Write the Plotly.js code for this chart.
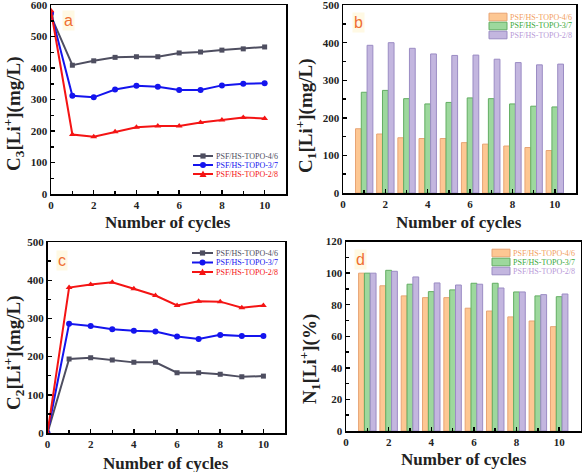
<!DOCTYPE html>
<html>
<head>
<meta charset="utf-8">
<script src="https://cdn.plot.ly/plotly-3.0.1.min.js"></script>
<style>html,body{margin:0;padding:0;background:#fff;}#chart{width:584px;height:472px;}</style>
</head>
<body>
<div id="chart"></div>
<script>
// ---------- data ----------
const seriesNames = ['PSF/HS-TOPO-4/6', 'PSF/HS-TOPO-3/7', 'PSF/HS-TOPO-2/8'];
const cyclesLine = [0, 1, 2, 3, 4, 5, 6, 7, 8, 9, 10];
const cyclesBar = [1, 2, 3, 4, 5, 6, 7, 8, 9, 10];
const xTicks = [0, 2, 4, 6, 8, 10];
const yTicksA = [0, 100, 200, 300, 400, 500, 600];
const yTicksBC = [0, 100, 200, 300, 400, 500];
const yTicksD = [0, 20, 40, 60, 80, 100, 120];

// (a) C3[Li+] (mg/L)
const c3_46 = [565, 409, 423, 434, 436, 436, 448, 451, 457, 461, 467];
const c3_37 = [575, 312, 307, 332, 344, 341, 330, 330, 345, 350, 352];
const c3_28 = [582, 189, 182, 198, 212, 216, 216, 227, 235, 243, 240];

// (b) C1[Li+] (mg/L)
const c1_46 = [171, 157, 147, 145, 145, 134, 130, 125, 121, 113];
const c1_37 = [268, 273, 251, 237, 241, 253, 251, 237, 231, 229];
const c1_28 = [393, 400, 385, 370, 366, 367, 356, 347, 341, 343];

// (c) C2[Li+] (mg/L)
const c2_46 = [0, 194, 197, 191, 185, 185, 158, 158, 154, 147, 149];
const c2_37 = [0, 286, 280, 272, 268, 266, 253, 246, 257, 254, 254];
const c2_28 = [0, 381, 389, 395, 378, 360, 334, 345, 344, 328, 334];

// (d) N1[Li+] (%)
const n1_46 = [100, 92, 85.6, 84.5, 84.5, 77.8, 76, 72.3, 69.7, 66.1];
const n1_37 = [100, 101.8, 93, 88.3, 89.4, 93.6, 93.6, 88.1, 85.6, 85.1];
const n1_28 = [100, 101.2, 97.6, 93.8, 92.5, 93, 90.6, 88.1, 86.4, 86.8];

// ---------- styling ----------
const W = 584, H = 472;
const px = x => x / W;
const py = y => 1 - y / H;
const SERIF = 'Liberation Serif, Times New Roman, serif';
const lineColors = ['#4e4e60', '#1414ee', '#f41414'];
const lineSymbols = ['square', 'circle', 'triangle-up'];
const barFill = ['#fdc793', '#9dd89d', '#c3b6df'];
const barEdge = ['#e8a474', '#62ad62', '#9b8cc4'];
const legTextColors = ['#f2a060', '#3aa83a', '#b99ad8'];
const letterColor = '#ef6f32';

function lineTrace(y, i, xa, ya) {
  return {
    x: cyclesLine, y: y, xaxis: xa, yaxis: ya, type: 'scatter', mode: 'lines+markers',
    name: seriesNames[i], showlegend: false,
    line: {color: lineColors[i], width: 2},
    marker: {symbol: lineSymbols[i], size: i === 0 ? 5 : 6, color: lineColors[i]}
  };
}
function barTrace(y, i, xa, ya) {
  return {
    x: cyclesBar, y: y, xaxis: xa, yaxis: ya, type: 'bar',
    name: seriesNames[i], showlegend: false, offsetgroup: String(i),
    marker: {color: barFill[i], line: {color: barEdge[i], width: 1}}
  };
}

const traces = [
  lineTrace(c3_46, 0, 'x', 'y'), lineTrace(c3_37, 1, 'x', 'y'), lineTrace(c3_28, 2, 'x', 'y'),
  barTrace(c1_46, 0, 'x2', 'y2'), barTrace(c1_37, 1, 'x2', 'y2'), barTrace(c1_28, 2, 'x2', 'y2'),
  lineTrace(c2_46, 0, 'x3', 'y3'), lineTrace(c2_37, 1, 'x3', 'y3'), lineTrace(c2_28, 2, 'x3', 'y3'),
  barTrace(n1_46, 0, 'x4', 'y4'), barTrace(n1_37, 1, 'x4', 'y4'), barTrace(n1_28, 2, 'x4', 'y4')
];

const tickFont = {family: SERIF, size: 11, color: '#222', weight: 'bold'};
function xAxis(dom, anchor) {
  return {
    domain: dom, anchor: anchor, range: [0, 11], tickmode: 'array', tickvals: xTicks,
    ticks: 'inside', ticklen: 4, tickwidth: 1.5, tickcolor: '#000',
    minor: {dtick: 1, tick0: 0, ticks: 'inside', ticklen: 3, tickwidth: 1.5, tickcolor: '#000'},
    showline: true, linecolor: '#000', linewidth: 1.5, mirror: true, ticklabeloverflow: 'allow',
    showgrid: false, zeroline: false, tickfont: tickFont, fixedrange: true
  };
}
function yAxis(dom, anchor, ticks) {
  const max = ticks[ticks.length - 1];
  const step = ticks[1] - ticks[0];
  return {
    domain: dom, anchor: anchor, range: [0, max * 1.0005], tickmode: 'array', tickvals: ticks,
    ticks: 'inside', ticklen: 4, tickwidth: 1.5, tickcolor: '#000',
    minor: {dtick: step / 2, tick0: 0, ticks: 'inside', ticklen: 3, tickwidth: 1.5, tickcolor: '#000'},
    showline: true, linecolor: '#000', linewidth: 1.5, mirror: true, ticklabeloverflow: 'allow',
    showgrid: false, zeroline: false, tickfont: tickFont, fixedrange: true
  };
}

const annotations = [];
const shapes = [];
function addText(x, y, text, opts) {
  annotations.push(Object.assign({
    xref: 'paper', yref: 'paper', x: px(x), y: py(y), text: text, showarrow: false,
    xanchor: 'center', yanchor: 'middle'
  }, opts || {}));
}
const titleFont = {family: SERIF, size: 17, color: '#222', weight: 'bold'};
const yTitleFont = {family: SERIF, size: 19, color: '#222', weight: 'bold'};
// x titles
addText(168, 222, 'Number of cycles', {font: titleFont});
addText(459, 222, 'Number of cycles', {font: titleFont});
addText(166, 463, 'Number of cycles', {font: titleFont});
addText(464, 459, 'Number of cycles', {font: titleFont});
// y titles
addText(13, 114, 'C<sub>3</sub>[Li<sup>+</sup>](mg/L)', {font: yTitleFont, textangle: -90});
addText(305, 116, 'C<sub>1</sub>[Li<sup>+</sup>](mg/L)', {font: yTitleFont, textangle: -90});
addText(13, 353, 'C<sub>2</sub>[Li<sup>+</sup>](mg/L)', {font: yTitleFont, textangle: -90});
addText(309, 359, 'N<sub>1</sub>[Li<sup>+</sup>](%)', {font: yTitleFont, textangle: -90});
// panel letters
const letterFont = {family: 'Liberation Sans, Arial, sans-serif', size: 16, color: letterColor};
addText(68, 21, 'a', {font: letterFont, bgcolor: 'rgba(255,244,205,0.55)'});
addText(358, 23, 'b', {font: letterFont, bgcolor: 'rgba(255,244,205,0.55)'});
addText(62, 260, 'c', {font: letterFont, bgcolor: 'rgba(255,244,205,0.55)'});
addText(360, 259, 'd', {font: letterFont, bgcolor: 'rgba(255,244,205,0.55)'});

// legends (drawn as decoration)
function pathPaper(p) {
  return p.replace(/(-?[\d.]+),(-?[\d.]+)/g, (m, a, b) => `${px(parseFloat(a))},${py(parseFloat(b))}`);
}
function lineLegend(x0, x1, rows) {
  rows.forEach((y, i) => {
    shapes.push({type: 'line', xref: 'paper', yref: 'paper', x0: px(x0), x1: px(x1), y0: py(y), y1: py(y),
      line: {color: lineColors[i], width: 2}});
    const cx = (x0 + x1) / 2, s = 2.6;
    if (i === 0) {
      shapes.push({type: 'rect', xref: 'paper', yref: 'paper', x0: px(cx - s), x1: px(cx + s), y0: py(y + s), y1: py(y - s),
        fillcolor: lineColors[i], line: {width: 0}});
    } else if (i === 1) {
      shapes.push({type: 'circle', xref: 'paper', yref: 'paper', x0: px(cx - 3), x1: px(cx + 3), y0: py(y + 3), y1: py(y - 3),
        fillcolor: lineColors[i], line: {width: 0}});
    } else {
      const p = `M ${cx - 3.5},${y + 3} L ${cx + 3.5},${y + 3} L ${cx},${y - 3.5} Z`;
      shapes.push({type: 'path', xref: 'paper', yref: 'paper', path: pathPaper(p), fillcolor: lineColors[i], line: {width: 0}});
    }
    addText(x1 + 1, y, seriesNames[i], {xanchor: 'left', font: {family: SERIF, size: 8, color: lineColors[i]}});
  });
}
function barLegend(x0, x1, rows) {
  rows.forEach((y, i) => {
    shapes.push({type: 'rect', xref: 'paper', yref: 'paper', x0: px(x0), x1: px(x1), y0: py(y + 3.8), y1: py(y - 3.8),
      fillcolor: barFill[i], line: {color: barEdge[i], width: 1}});
    addText(x1 + 1, y, seriesNames[i], {xanchor: 'left', font: {family: SERIF, size: 8, color: legTextColors[i]}});
  });
}
lineLegend(193, 213, [156, 165, 174]);
lineLegend(192, 213, [253, 262.5, 272]);
barLegend(489, 507, [17, 26, 35]);
barLegend(492, 510, [253, 262, 271]);

const layout = {
  width: W, height: H, margin: {l: 0, r: 0, t: 0, b: 0},
  paper_bgcolor: '#fff', plot_bgcolor: '#fff',
  font: {family: SERIF, color: '#222', size: 11},
  showlegend: false, barmode: 'group', bargap: 0.18, bargroupgap: 0,
  xaxis: xAxis([px(51), px(286)], 'y'),
  yaxis: yAxis([py(194), py(5)], 'x', yTicksA),
  xaxis2: xAxis([px(343), px(576)], 'y2'),
  yaxis2: yAxis([py(193), py(5)], 'x2', yTicksBC),
  xaxis3: xAxis([px(47.5), px(285)], 'y3'),
  yaxis3: yAxis([py(433), py(242)], 'x3', yTicksBC),
  xaxis4: xAxis([px(346), px(580.5)], 'y4'),
  yaxis4: yAxis([py(431), py(241.5)], 'x4', yTicksD),
  annotations: annotations, shapes: shapes
};

Plotly.newPlot('chart', traces, layout, {displayModeBar: false, staticPlot: true});
</script>
</body>
</html>
